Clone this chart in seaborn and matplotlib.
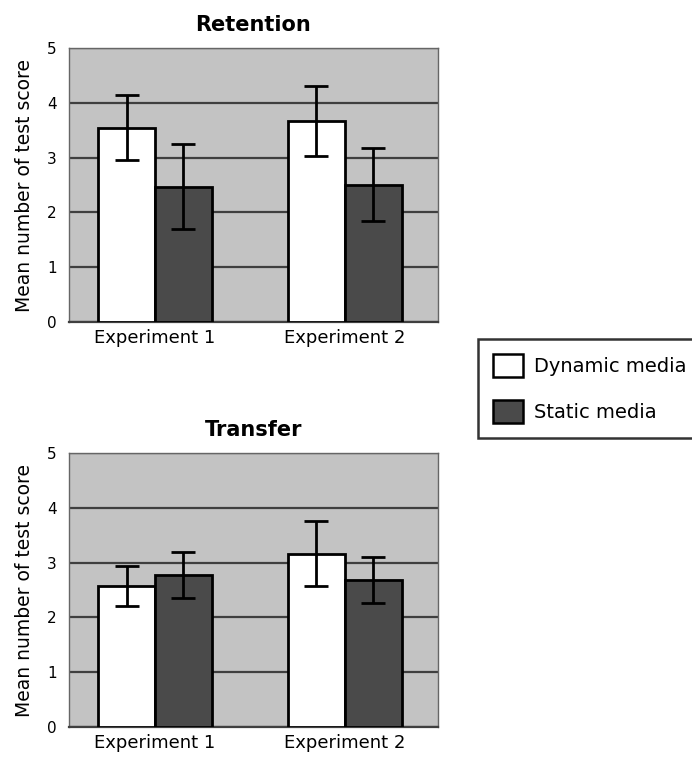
import pandas as pd
import seaborn as sns
import matplotlib.pyplot as plt

experiments = ['Experiment 1', 'Experiment 2']
media = ['Dynamic media', 'Static media']

retention_dynamic = [3.54, 3.67]
retention_static = [2.47, 2.50]
retention_dynamic_lo = [2.96, 3.03]
retention_dynamic_hi = [4.14, 4.31]
retention_static_lo = [1.70, 1.84]
retention_static_hi = [3.24, 3.17]

transfer_dynamic = [2.57, 3.16]
transfer_static = [2.77, 2.69]
transfer_dynamic_lo = [2.20, 2.57]
transfer_dynamic_hi = [2.94, 3.76]
transfer_static_lo = [2.36, 2.26]
transfer_static_hi = [3.20, 3.11]

colors = {'Dynamic media': 'white', 'Static media': '#4a4a4a'}


def panel(ax, title, dyn, stat, dyn_lo, dyn_hi, st_lo, st_hi):
    df = pd.DataFrame({
        'Experiment': experiments * 2,
        'Media': [media[0]] * 2 + [media[1]] * 2,
        'Score': dyn + stat,
    })
    sns.barplot(data=df, x='Experiment', y='Score', hue='Media',
                palette=colors, width=0.6, edgecolor='black',
                linewidth=2, legend=False, ax=ax, zorder=3)

    lows = [dyn_lo, st_lo]
    highs = [dyn_hi, st_hi]
    vals = [dyn, stat]
    bar_conts = list(ax.containers)
    for k, cont in enumerate(bar_conts):
        for i, bar in enumerate(cont.patches):
            xc = bar.get_x() + bar.get_width() / 2
            v = vals[k][i]
            ax.errorbar(xc, v, yerr=[[v - lows[k][i]], [highs[k][i] - v]],
                        fmt='none', ecolor='black', elinewidth=2,
                        capsize=8.5, capthick=2, zorder=4)

    ax.set_facecolor('#c3c3c3')
    ax.set_ylim(0, 5)
    ax.set_xlim(-0.453, 1.49)
    ax.set_yticks(range(6))
    ax.yaxis.grid(True, color='#3f3f3f', linewidth=1.6)
    ax.set_axisbelow(True)
    ax.set_title(title, fontsize=15, fontweight='bold', pad=12,
                 color='black')
    ax.set_xlabel('')
    ax.set_ylabel('Mean number of test score', fontsize=13.5, labelpad=9,
                  color='black')
    ax.tick_params(axis='y', length=4, width=1.5, color='#3f3f3f',
                   labelcolor='black', labelsize=11, pad=5)
    ax.tick_params(axis='x', length=0, labelsize=13, labelcolor='black',
                   pad=5)
    for side in ['top', 'right', 'left']:
        ax.spines[side].set_color('#666666')
        ax.spines[side].set_linewidth(1)
    ax.spines['bottom'].set_color('#3f3f3f')
    ax.spines['bottom'].set_linewidth(1.6)


sns.set_style('white')
plt.rcParams['font.family'] = ['DejaVu Sans']
plt.rcParams['text.color'] = 'black'

fig = plt.figure(figsize=(6.92, 7.6), dpi=100)
ax1 = fig.add_axes([0.0997, 0.5763, 0.533, 0.3605])
ax2 = fig.add_axes([0.0997, 0.0434, 0.533, 0.3605])

panel(ax1, 'Retention', retention_dynamic, retention_static,
      retention_dynamic_lo, retention_dynamic_hi,
      retention_static_lo, retention_static_hi)
panel(ax2, 'Transfer', transfer_dynamic, transfer_static,
      transfer_dynamic_lo, transfer_dynamic_hi,
      transfer_static_lo, transfer_static_hi)

handles = [plt.Rectangle((0, 0), 1, 1, facecolor=colors[m],
                         edgecolor='black', linewidth=1.8) for m in media]
leg = fig.legend(handles, media, loc='lower left',
                 bbox_to_anchor=(478 / 692, 1 - 438 / 760),
                 fontsize=14, frameon=True, fancybox=False,
                 handlelength=1.55, handleheight=1.5, labelspacing=1.15,
                 borderpad=0.75, handletextpad=0.6, borderaxespad=0)
leg.get_frame().set_edgecolor('black')
leg.get_frame().set_linewidth(1.8)

plt.savefig('out.png', dpi=100)
